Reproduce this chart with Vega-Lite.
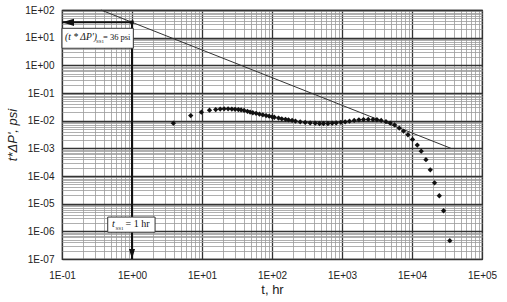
{
  "$schema": "https://vega.github.io/schema/vega-lite/v6.json",
  "width": 420,
  "height": 249,
  "autosize": "none",
  "padding": {"left": 62, "top": 10, "right": 25, "bottom": 43},
  "background": "white",
  "config": {
    "view": {"stroke": "#333", "strokeWidth": 1.2},
    "font": "Liberation Sans"
  },
  "encoding": {
    "x": {
      "field": "t", "type": "quantitative",
      "scale": {"type": "log", "domain": [0.1, 100000], "nice": false, "zero": false},
      "axis": {
        "title": "t, hr",
        "titleFont": "Liberation Sans", "titleFontSize": 13, "titleFontWeight": "normal", "titleColor": "#222", "titlePadding": 3,
        "values": [0.1,0.2,0.3,0.4,0.5,0.6,0.7,0.8,0.9,1,2,3,4,5,6,7,8,9,10,20,30,40,50,60,70,80,90,100,200,300,400,500,600,700,800,900,1000,2000,3000,4000,5000,6000,7000,8000,9000,10000,20000,30000,40000,50000,60000,70000,80000,90000,100000],
        "labelExpr": "abs(log(datum.value)/LN10 - round(log(datum.value)/LN10)) < 0.001 ? ('1E' + (round(log(datum.value)/LN10) < 0 ? '-' : '+') + (abs(round(log(datum.value)/LN10)) < 10 ? '0' : '') + abs(round(log(datum.value)/LN10))) : ''",
        "labelOverlap": false, "labelFlush": false, "labelBound": false,
        "labelFontSize": 10, "labelColor": "#222", "labelPadding": 11,
        "ticks": false, "domain": false,
        "grid": true,
        "gridColor": {"condition": {"test": "abs(log(datum.value)/LN10 - round(log(datum.value)/LN10)) < 0.001", "value": "#333"}, "value": "#9a9a9a"},
        "gridWidth": {"condition": {"test": "abs(log(datum.value)/LN10 - round(log(datum.value)/LN10)) < 0.001", "value": 1.3}, "value": 0.8},
        "gridOpacity": 1
      }
    },
    "y": {
      "field": "v", "type": "quantitative",
      "scale": {"type": "log", "domain": [1e-7, 100], "nice": false, "zero": false},
      "axis": {
        "title": "t*ΔP', psi",
        "titleFont": "Liberation Sans", "titleFontSize": 13, "titleFontWeight": "normal", "titleFontStyle": "italic", "titleColor": "#222", "titlePadding": 5,
        "values": [1e-7,2e-7,3e-7,4e-7,5e-7,6e-7,7e-7,8e-7,9e-7,1e-6,2e-6,3e-6,4e-6,5e-6,6e-6,7e-6,8e-6,9e-6,1e-5,2e-5,3e-5,4e-5,5e-5,6e-5,7e-5,8e-5,9e-5,1e-4,2e-4,3e-4,4e-4,5e-4,6e-4,7e-4,8e-4,9e-4,0.001,0.002,0.003,0.004,0.005,0.006,0.007,0.008,0.009,0.01,0.02,0.03,0.04,0.05,0.06,0.07,0.08,0.09,0.1,0.2,0.3,0.4,0.5,0.6,0.7,0.8,0.9,1,2,3,4,5,6,7,8,9,10,20,30,40,50,60,70,80,90,100],
        "labelExpr": "abs(log(datum.value)/LN10 - round(log(datum.value)/LN10)) < 0.001 ? ('1E' + (round(log(datum.value)/LN10) < 0 ? '-' : '+') + (abs(round(log(datum.value)/LN10)) < 10 ? '0' : '') + abs(round(log(datum.value)/LN10))) : ''",
        "labelOverlap": false, "labelFlush": false, "labelBound": false,
        "labelFontSize": 10, "labelColor": "#222", "labelPadding": 8,
        "ticks": false, "domain": false,
        "grid": true,
        "gridColor": {"condition": {"test": "abs(log(datum.value)/LN10 - round(log(datum.value)/LN10)) < 0.001", "value": "#333"}, "value": "#9a9a9a"},
        "gridWidth": {"condition": {"test": "abs(log(datum.value)/LN10 - round(log(datum.value)/LN10)) < 0.001", "value": 1.3}, "value": 0.8},
        "gridOpacity": 1
      }
    }
  },
  "layer": [
    {
      "data": {"values": [{"t": 0.36, "v": 100}, {"t": 36000, "v": 0.001}]},
      "mark": {"type": "line", "color": "#333", "strokeWidth": 1}
    },
    {
      "data": {"values": [
        {"t": 3.9, "v": 0.0081}, {"t": 6.9, "v": 0.0153}, {"t": 9.8, "v": 0.0203}, {"t": 12.8, "v": 0.0239},
        {"t": 15.7, "v": 0.0252}, {"t": 18.2, "v": 0.0262}, {"t": 20.7, "v": 0.0267}, {"t": 23.6, "v": 0.0267},
        {"t": 26.7, "v": 0.0262}, {"t": 29.7, "v": 0.0257}, {"t": 33.1, "v": 0.0252}, {"t": 36.2, "v": 0.0245},
        {"t": 40.0, "v": 0.0234}, {"t": 44.6, "v": 0.0218}, {"t": 48.7, "v": 0.0205}, {"t": 53.2, "v": 0.0193},
        {"t": 59.3, "v": 0.0185}, {"t": 66.2, "v": 0.0172}, {"t": 74.0, "v": 0.0162}, {"t": 82.4, "v": 0.0153},
        {"t": 91.0, "v": 0.0145}, {"t": 100.5, "v": 0.0138}, {"t": 108, "v": 0.0133}, {"t": 124, "v": 0.0124},
        {"t": 138, "v": 0.0117}, {"t": 156, "v": 0.0112}, {"t": 172, "v": 0.0107}, {"t": 194, "v": 0.0102},
        {"t": 216, "v": 0.0097}, {"t": 253, "v": 0.0091}, {"t": 298, "v": 0.0086}, {"t": 351, "v": 0.0083},
        {"t": 414, "v": 0.0081}, {"t": 477, "v": 0.0079}, {"t": 544, "v": 0.0079}, {"t": 629, "v": 0.0079},
        {"t": 724, "v": 0.0081}, {"t": 826, "v": 0.0083}, {"t": 964, "v": 0.0087}, {"t": 1111, "v": 0.0091},
        {"t": 1279, "v": 0.0096}, {"t": 1494, "v": 0.0102}, {"t": 1745, "v": 0.0107}, {"t": 2029, "v": 0.011},
        {"t": 2371, "v": 0.0111}, {"t": 2767, "v": 0.011}, {"t": 3155, "v": 0.0108}, {"t": 3631, "v": 0.0102},
        {"t": 4246, "v": 0.0092}, {"t": 4887, "v": 0.0082}, {"t": 5632, "v": 0.007}, {"t": 6577, "v": 0.0054},
        {"t": 7568, "v": 0.0042}, {"t": 8750, "v": 0.0031}, {"t": 10180, "v": 0.0021}, {"t": 11890, "v": 0.00131},
        {"t": 13550, "v": 0.00079}, {"t": 15820, "v": 0.00039}, {"t": 18240, "v": 0.000167}, {"t": 20990, "v": 0.0000569},
        {"t": 24550, "v": 0.0000193}, {"t": 28250, "v": 0.00000554}, {"t": 34670, "v": 0.000000458}
      ]},
      "mark": {"type": "point", "shape": "diamond", "filled": true, "color": "#111", "size": 28, "opacity": 1}
    },
    {
      "data": {"values": [{"t": 1, "t2": 0.1, "v": 36}]},
      "mark": {"type": "rule", "color": "#111", "strokeWidth": 2},
      "encoding": {"x2": {"field": "t2"}}
    },
    {
      "data": {"values": [{"t": 1, "v": 36, "v2": 1e-7}]},
      "mark": {"type": "rule", "color": "#111", "strokeWidth": 2},
      "encoding": {"y2": {"field": "v2"}}
    },
    {
      "data": {"values": [{"t": 0.1, "v": 36}]},
      "mark": {"type": "point", "shape": "M 0 0 L 2 -0.6 L 2 0.6 Z", "filled": true, "color": "#111", "size": 144, "opacity": 1}
    },
    {
      "data": {"values": [{"t": 1, "v": 1e-7}]},
      "mark": {"type": "point", "shape": "M 0 0 L -0.6 -2 L 0.6 -2 Z", "filled": true, "color": "#111", "size": 100, "opacity": 1}
    },
    {
      "data": {"values": [{"t": 1, "v": 36}]},
      "mark": {"type": "point", "shape": "square", "filled": true, "color": "#111", "size": 12, "opacity": 1}
    },
    {
      "data": {"values": [
        {"t": 0.1, "t2": 1.045, "v": 21.8, "v2": 4.14},
        {"t": 0.45, "t2": 2.136, "v": 3.28e-6, "v2": 9.29e-7}
      ]},
      "mark": {"type": "rect", "fill": "white", "stroke": "#333", "strokeWidth": 1, "opacity": 1, "fillOpacity": 1},
      "encoding": {"x2": {"field": "t2"}, "y2": {"field": "v2"}}
    },
    {
      "data": {"values": [{"t": 0.1, "v": 11, "label": "(t * ΔP')"}]},
      "mark": {"type": "text", "align": "left", "baseline": "middle", "dx": 3, "font": "Liberation Serif", "fontSize": 9.5, "fontStyle": "italic", "color": "#111"},
      "encoding": {"text": {"field": "label"}}
    },
    {
      "data": {"values": [{"t": 0.1, "v": 11, "label": "SS1"}]},
      "mark": {"type": "text", "align": "left", "baseline": "middle", "dx": 34, "dy": 4, "font": "Liberation Serif", "fontSize": 5, "color": "#111"},
      "encoding": {"text": {"field": "label"}}
    },
    {
      "data": {"values": [{"t": 0.1, "v": 11, "label": "= 36 psi"}]},
      "mark": {"type": "text", "align": "left", "baseline": "middle", "dx": 41, "font": "Liberation Serif", "fontSize": 8.5, "color": "#111"},
      "encoding": {"text": {"field": "label"}}
    },
    {
      "data": {"values": [{"t": 1, "v": 1.8e-6, "label": "t"}]},
      "mark": {"type": "text", "align": "left", "baseline": "middle", "dx": -20, "font": "Liberation Serif", "fontSize": 10, "fontStyle": "italic", "color": "#111"},
      "encoding": {"text": {"field": "label"}}
    },
    {
      "data": {"values": [{"t": 1, "v": 1.8e-6, "label": "SS1"}]},
      "mark": {"type": "text", "align": "left", "baseline": "middle", "dx": -16.5, "dy": 3.5, "font": "Liberation Serif", "fontSize": 5, "color": "#111"},
      "encoding": {"text": {"field": "label"}}
    },
    {
      "data": {"values": [{"t": 1, "v": 1.8e-6, "label": "= 1 hr"}]},
      "mark": {"type": "text", "align": "left", "baseline": "middle", "dx": -6.5, "font": "Liberation Serif", "fontSize": 10, "color": "#111"},
      "encoding": {"text": {"field": "label"}}
    }
  ]
}
